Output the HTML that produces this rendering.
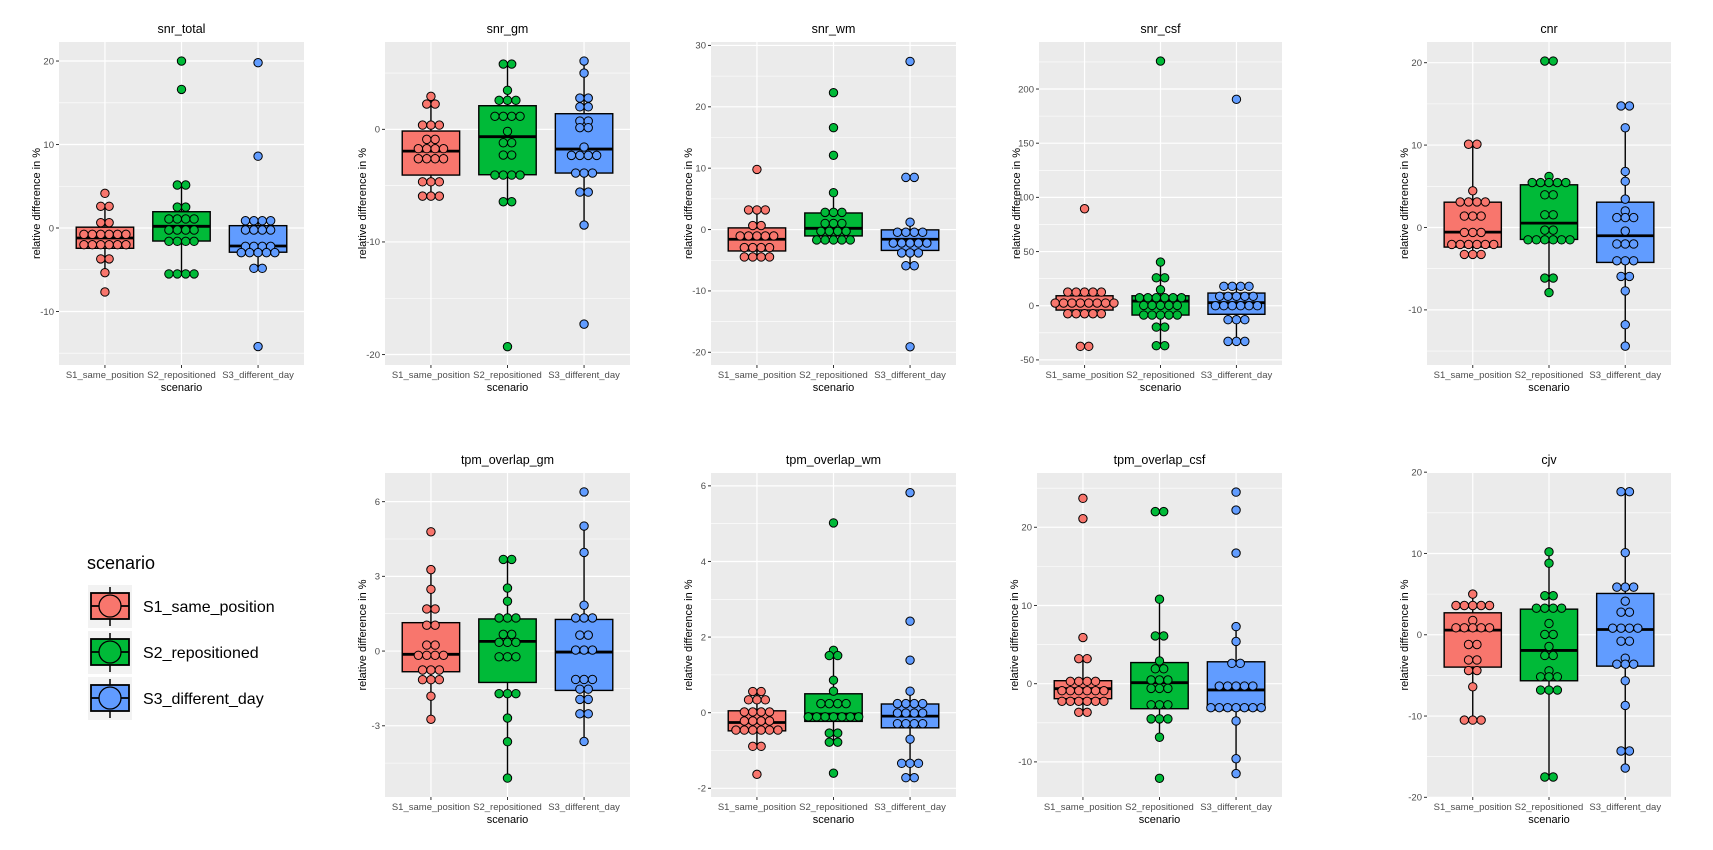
<!DOCTYPE html>
<html><head><meta charset="utf-8"><style>
html,body{margin:0;padding:0;background:#fff;}
svg{display:block;font-family:"Liberation Sans",Arial,sans-serif;}
</style></head><body>
<svg id="chart" width="1713" height="850" viewBox="0 0 1713 850"></svg>
<script>
// ---------- data ----------
const categories = ["S1_same_position","S2_repositioned","S3_different_day"];
const fills = ["#F8766D","#00BA38","#619CFF"];

// snr_total
const snrTotalS1 = [4.15,2.6,2.6,0.64,0.64,-0.76,-0.76,-0.76,-0.76,-0.76,-0.76,-2.0,-2.0,-2.0,-2.0,-2.0,-2.0,-3.7,-3.7,-5.35,-7.66];
const snrTotalS2 = [20,16.6,5.15,5.15,2.5,2.5,1.08,1.08,1.08,1.08,-0.24,-0.24,-0.24,-0.24,-1.6,-1.6,-1.6,-1.6,-5.5,-5.5,-5.5,-5.5];
const snrTotalS3 = [19.8,8.6,0.87,0.87,0.87,0.87,-0.24,-0.24,-0.24,-0.24,-2.2,-2.2,-2.2,-2.2,-2.95,-2.95,-2.95,-2.95,-2.95,-4.83,-4.83,-14.2];
const snrTotalBox = {q1:[-2.43,-1.56,-2.9], med:[-1.2,0.2,-2.16], q3:[0.1,1.95,0.28], lo:[-5.35,-5.5,-4.83], hi:[2.6,5.15,0.87]};
const snrTotalTicks = [-10,0,10,20];

// snr_gm
const snrGmS1 = [2.93,2.25,2.25,0.38,0.38,0.38,-0.89,-0.89,-1.72,-1.72,-1.72,-1.72,-2.61,-2.61,-2.61,-2.61,-4.66,-4.66,-4.66,-5.93,-5.93,-5.93];
const snrGmS2 = [5.8,5.8,3.47,2.58,2.58,2.58,1.16,1.16,1.16,1.16,-0.18,-1.19,-1.19,-2.28,-2.28,-4.06,-4.06,-4.06,-4.06,-6.43,-6.43,-19.3];
const snrGmS3 = [6.07,5.0,2.78,2.78,2.0,2.0,0.74,0.74,0.15,0.15,-1.57,-2.31,-2.31,-2.31,-2.31,-3.88,-3.88,-3.88,-5.57,-5.57,-8.5,-17.3];
const snrGmBox = {q1:[-4.06,-4.03,-3.88], med:[-1.93,-0.65,-1.75], q3:[-0.15,2.1,1.39], lo:[-5.93,-6.43,-8.5], hi:[2.93,5.8,6.07]};
const snrGmTicks = [-20,-10,0];

// snr_wm
const snrWmS1 = [9.8,3.2,3.2,3.2,0.65,0.65,-1.04,-1.04,-1.04,-1.04,-1.04,-2.94,-2.94,-2.94,-2.94,-4.47,-4.47,-4.47,-4.47];
const snrWmS2 = [22.3,16.6,12.1,6.0,2.8,2.8,2.8,1.0,1.0,1.0,-0.28,-0.28,-0.28,-0.28,-1.7,-1.7,-1.7,-1.7,-1.7];
const snrWmS3 = [27.4,8.5,8.5,1.2,-0.44,-0.44,-0.44,-0.44,-2.2,-2.2,-2.2,-2.2,-2.2,-3.8,-3.8,-3.8,-5.9,-5.9,-19.1];
const snrWmBox = {q1:[-3.49,-1.04,-3.4], med:[-1.58,0.2,-1.58], q3:[0.27,2.7,-0.05], lo:[-4.47,-1.7,-5.9], hi:[3.2,6.0,1.2]};
const snrWmTicks = [-20,-10,0,10,20,30];

// snr_csf
const snrCsfS1 = [89.5,12.6,12.6,12.6,12.6,12.6,2.5,2.5,2.5,2.5,2.5,2.5,2.5,2.5,-7.4,-7.4,-7.4,-7.4,-7.4,-37.5,-37.5];
const snrCsfS2 = [225.8,40.3,25.8,25.8,14.8,7.4,7.4,7.4,7.4,7.4,7.4,0.3,0.3,0.3,0.3,0.3,-8.6,-8.6,-8.6,-8.6,-8.6,-19.7,-19.7,-36.9,-36.9];
const snrCsfS3 = [190.5,17.9,17.9,17.9,17.9,8.7,8.7,8.7,8.7,8.7,0,0,0,0,0,0,-12.9,-12.9,-12.9,-32.9,-32.9,-32.9];
const snrCsfBox = {q1:[-4,-8.6,-7.9], med:[2.8,4.3,2.8], q3:[9.2,9.2,11.7], lo:[-7.4,-36.9,-32.9], hi:[12.6,40.3,17.9]};
const snrCsfTicks = [-50,0,50,100,150,200];

// cnr
const cnrS1 = [10.1,10.1,4.45,3.1,3.1,3.1,3.1,1.38,1.38,1.38,-0.6,-0.6,-0.6,-2.06,-2.06,-2.06,-2.06,-2.06,-2.06,-3.27,-3.27,-3.27];
const cnrS2 = [20.2,20.2,6.2,5.45,5.45,5.45,5.45,5.45,3.96,3.96,1.54,1.54,-0.32,-0.32,-1.5,-1.5,-1.5,-1.5,-1.5,-1.5,-6.14,-6.14,-7.9];
const cnrS3 = [14.75,14.75,12.1,6.8,5.6,3.44,2.0,1.2,1.2,1.2,-0.44,-2.0,-2.0,-2.0,-4.04,-4.04,-4.04,-5.94,-5.94,-7.7,-11.8,-14.4];
const cnrBox = {q1:[-2.38,-1.45,-4.24], med:[-0.56,0.53,-1.0], q3:[3.07,5.18,3.07], lo:[-3.27,-7.9,-14.4], hi:[10.1,6.2,12.1]};
const cnrTicks = [-10,0,10,20];

// tpm_overlap_gm
const tpmGmS1 = [4.79,3.27,2.48,1.69,1.69,1.04,1.04,0.24,0.24,-0.17,-0.17,-0.17,-0.17,-0.76,-0.76,-0.76,-1.15,-1.15,-1.15,-1.81,-2.74];
const tpmGmS2 = [3.68,3.68,2.53,2.0,1.33,1.33,1.33,0.67,0.67,0.35,0.35,0.35,-0.23,-0.23,-0.23,-1.71,-1.71,-1.71,-2.69,-3.64,-5.1];
const tpmGmS3 = [6.39,5.02,3.96,1.84,1.33,1.33,1.33,0.64,0.64,0.04,0.04,0.04,-1.14,-1.14,-1.14,-1.53,-1.53,-1.94,-1.94,-2.52,-2.52,-3.63];
const tpmGmBox = {q1:[-0.83,-1.26,-1.58], med:[-0.13,0.39,-0.04], q3:[1.14,1.29,1.27], lo:[-2.74,-5.1,-3.63], hi:[3.27,3.68,5.02]};
const tpmGmTicks = [-3,0,3,6];

// tpm_overlap_wm
const tpmWmS1 = [0.56,0.56,0.34,0.34,0.34,0.02,0.02,0.02,0.02,-0.22,-0.22,-0.22,-0.22,-0.46,-0.46,-0.46,-0.46,-0.46,-0.46,-0.89,-0.89,-1.63];
const tpmWmS2 = [5.02,1.65,1.51,1.51,0.86,0.57,0.24,0.24,0.24,0.24,-0.11,-0.11,-0.11,-0.11,-0.11,-0.11,-0.11,-0.54,-0.54,-0.78,-0.78,-1.6];
const tpmWmS3 = [5.82,2.42,1.39,0.57,0.24,0.24,0.24,0.24,-0.01,-0.01,-0.01,-0.01,-0.29,-0.29,-0.29,-0.29,-0.7,-1.34,-1.34,-1.34,-1.72,-1.72];
const tpmWmBox = {q1:[-0.48,-0.23,-0.4], med:[-0.26,-0.04,-0.09], q3:[0.05,0.5,0.23], lo:[-0.89,-0.78,-1.72], hi:[0.56,1.65,0.57]};
const tpmWmTicks = [-2,0,2,4,6];

// tpm_overlap_csf
const tpmCsfS1 = [23.7,21.1,5.9,3.2,3.2,0.3,0.3,0.3,0.3,-0.9,-0.9,-0.9,-0.9,-0.9,-0.9,-2.25,-2.25,-2.25,-2.25,-2.25,-2.25,-3.66,-3.66];
const tpmCsfS2 = [22,22,10.8,6.1,6.1,2.9,1.9,1.9,0.47,0.47,0.47,-0.6,-0.6,-0.6,-2.7,-2.7,-2.7,-4.5,-4.5,-4.5,-6.85,-12.1];
const tpmCsfS3 = [24.5,22.2,16.7,7.3,5.4,2.6,2.6,-0.3,-0.3,-0.3,-0.3,-0.3,-3.07,-3.07,-3.07,-3.07,-3.07,-3.07,-3.07,-4.77,-9.6,-11.5];
const tpmCsfBox = {q1:[-1.92,-3.2,-3.36], med:[-0.64,0.13,-0.8], q3:[0.38,2.7,2.8], lo:[-3.66,-6.85,-11.5], hi:[3.2,10.8,7.3]};
const tpmCsfTicks = [-10,0,10,20];

// cjv
const cjvS1 = [5.0,3.6,3.6,3.6,3.6,3.6,1.76,0.86,0.86,0.86,0.86,0.86,-1.2,-1.2,-3.1,-3.1,-4.4,-4.4,-6.4,-10.5,-10.5,-10.5];
const cjvS2 = [10.2,8.8,4.8,4.8,3.27,3.27,3.27,3.27,1.39,0.04,0.04,-1.44,-2.55,-2.55,-4.43,-5.17,-5.17,-5.17,-6.8,-6.8,-6.8,-17.5,-17.5];
const cjvS3 = [17.6,17.6,10.1,5.86,5.86,5.86,4.13,2.78,2.78,0.81,0.81,0.81,0.81,-0.79,-0.79,-2.88,-3.62,-3.62,-3.62,-5.66,-8.7,-14.3,-14.3,-16.4];
const cjvBox = {q1:[-3.98,-5.66,-3.86], med:[0.57,-1.93,0.65], q3:[2.7,3.15,5.08], lo:[-10.5,-17.5,-16.4], hi:[5.0,10.2,17.6]};
const cjvTicks = [-20,-10,0,10,20];

// ---------- layout ----------
const panels = [
  {id:"snr-total", title:"snr_total", groups:[snrTotalS1,snrTotalS2,snrTotalS3], box:snrTotalBox, ticks:snrTotalTicks, L:59, R:304, T:42, B:365, ymin:-16.41, ymax:22.28},
  {id:"snr-gm", title:"snr_gm", groups:[snrGmS1,snrGmS2,snrGmS3], box:snrGmBox, ticks:snrGmTicks, L:385, R:630, T:42, B:365, ymin:-20.93, ymax:7.76},
  {id:"snr-wm", title:"snr_wm", groups:[snrWmS1,snrWmS2,snrWmS3], box:snrWmBox, ticks:snrWmTicks, L:711, R:956, T:42, B:365, ymin:-22.07, ymax:30.56},
  {id:"snr-csf", title:"snr_csf", groups:[snrCsfS1,snrCsfS2,snrCsfS3], box:snrCsfBox, ticks:snrCsfTicks, L:1039, R:1282, T:42, B:365, ymin:-54.7, ymax:243.4},
  {id:"cnr", title:"cnr", groups:[cnrS1,cnrS2,cnrS3], box:cnrBox, ticks:cnrTicks, L:1427, R:1671, T:42, B:365, ymin:-16.69, ymax:22.51},
  {id:"tpm-overlap-gm", title:"tpm_overlap_gm", groups:[tpmGmS1,tpmGmS2,tpmGmS3], box:tpmGmBox, ticks:tpmGmTicks, L:385, R:630, T:473, B:797, ymin:-5.86, ymax:7.15},
  {id:"tpm-overlap-wm", title:"tpm_overlap_wm", groups:[tpmWmS1,tpmWmS2,tpmWmS3], box:tpmWmBox, ticks:tpmWmTicks, L:711, R:956, T:473, B:797, ymin:-2.23, ymax:6.34},
  {id:"tpm-overlap-csf", title:"tpm_overlap_csf", groups:[tpmCsfS1,tpmCsfS2,tpmCsfS3], box:tpmCsfBox, ticks:tpmCsfTicks, L:1037, R:1282, T:473, B:797, ymin:-14.49, ymax:26.94},
  {id:"cjv", title:"cjv", groups:[cjvS1,cjvS2,cjvS3], box:cjvBox, ticks:cjvTicks, L:1427, R:1671, T:473, B:797, ymin:-19.96, ymax:19.9}
];

const NS = "http://www.w3.org/2000/svg";
const svg = document.getElementById("chart");
function mk(tag, attrs, parent){
  const e = document.createElementNS(NS, tag);
  for (const k in attrs) e.setAttribute(k, attrs[k]);
  (parent||svg).appendChild(e);
  return e;
}

const R = 4.2;
panels.forEach(p => {
  const g = mk("g", {});
  
  
  const y = v => p.B - (v - p.ymin) / (p.ymax - p.ymin) * (p.B - p.T);
  const unit = (p.R - p.L) / 3.2;
  const x = i => p.L + unit * (i + 0.6);

  const bg = mk("rect", {x:p.L, y:p.T, width:p.R-p.L, height:p.B-p.T, fill:"#EBEBEB"}, g);
  
  

  const step = p.ticks[1] - p.ticks[0];
  for (let v = p.ticks[0] - step/2; v <= p.ymax; v += step) {
    if (v < p.ymin) continue;
    const l = mk("line", {x1:p.L, x2:p.R, y1:y(v), y2:y(v), stroke:"#fff", "stroke-width":0.6}, g);
    
    
  }
  p.ticks.forEach(v => {
    const l = mk("line", {x1:p.L, x2:p.R, y1:y(v), y2:y(v), stroke:"#fff", "stroke-width":1.2}, g);
    
    
    const t = mk("line", {x1:p.L-3, x2:p.L, y1:y(v), y2:y(v), stroke:"#333", "stroke-width":1}, g);
    
    
    const tx = mk("text", {x:p.L-5, y:y(v)+3.3, "text-anchor":"end", "font-size":9.5, fill:"#4D4D4D"}, g);
    tx.textContent = v;
    
    
  });
  categories.forEach((c, i) => {
    const l = mk("line", {x1:x(i), x2:x(i), y1:p.T, y2:p.B, stroke:"#fff", "stroke-width":1.2}, g);
    
    
    const t = mk("line", {x1:x(i), x2:x(i), y1:p.B, y2:p.B+3, stroke:"#333", "stroke-width":1}, g);
    
    
    const tx = mk("text", {x:x(i), y:p.B+13, "text-anchor":"middle", "font-size":9.5, fill:"#4D4D4D"}, g);
    tx.textContent = c;
    
    
  });

  const bw = unit * 0.75;
  categories.forEach((c, i) => {
    const b = p.box;
    const w1 = mk("line", {x1:x(i), x2:x(i), y1:y(b.q3[i]), y2:y(b.hi[i]), stroke:"#000", "stroke-width":1.4}, g);
    
    
    const w2 = mk("line", {x1:x(i), x2:x(i), y1:y(b.q1[i]), y2:y(b.lo[i]), stroke:"#000", "stroke-width":1.4}, g);
    
    
    const r = mk("rect", {x:x(i)-bw/2, y:y(b.q3[i]), width:bw, height:y(b.q1[i])-y(b.q3[i]), fill:fills[i], stroke:"#000", "stroke-width":1.4}, g);
    
    
    const m = mk("line", {x1:x(i)-bw/2, x2:x(i)+bw/2, y1:y(b.med[i]), y2:y(b.med[i]), stroke:"#000", "stroke-width":2.8}, g);
    
    
  });

  p.groups.forEach((vals, i) => {
    const counts = new Map();
    vals.forEach(v => { const k = v.toFixed(4); counts.set(k, (counts.get(k)||0) + 1); });
    counts.forEach((n, k) => {
      const v = parseFloat(k);
      for (let j = 0; j < n; j++) {
        const cx = x(i) + (j - (n-1)/2) * 2 * R;
        const d = mk("circle", {cx:cx, cy:y(v), r:R, fill:fills[i], stroke:"#000", "stroke-width":1}, g);
        
        
      }
    });
  });

  const title = mk("text", {x:(p.L+p.R)/2, y:p.T-9, "text-anchor":"middle", "font-size":12.5, fill:"#000"}, g);
  title.textContent = p.title;
  
  
  const xt = mk("text", {x:(p.L+p.R)/2, y:p.B+26, "text-anchor":"middle", "font-size":11, fill:"#000"}, g);
  xt.textContent = "scenario";
  
  
  const cy = (p.T+p.B)/2;
  const yt = mk("text", {x:p.L-23, y:cy+4, "text-anchor":"middle", "font-size":11, fill:"#000", transform:`rotate(-90 ${p.L-23} ${cy})`}, g);
  yt.textContent = "relative difference in %";
  
  
});

// ---------- legend ----------
const lg = mk("g", {});


const lt = mk("text", {x:87, y:569, "font-size":18, fill:"#000"}, lg);
lt.textContent = "scenario";


categories.forEach((c, i) => {
  const top = 585 + i * 46;
  const e = mk("g", {}, lg);
  
  
  mk("rect", {x:88, y:top, width:44, height:43, fill:"#F2F2F2"}, e);
  mk("line", {x1:110, x2:110, y1:top+2, y2:top+41, stroke:"#000", "stroke-width":1.5}, e);
  mk("rect", {x:91, y:top+8, width:38, height:26, fill:fills[i], stroke:"#000", "stroke-width":1.8}, e);
  mk("line", {x1:91, x2:129, y1:top+21, y2:top+21, stroke:"#000", "stroke-width":1.8}, e);
  mk("circle", {cx:110, cy:top+21, r:11, fill:fills[i], stroke:"#000", "stroke-width":1.3}, e);
  const t = mk("text", {x:143, y:top+27, "font-size":16, fill:"#000"}, e);
  t.textContent = c;
  
  
});
</script>
</body></html>
